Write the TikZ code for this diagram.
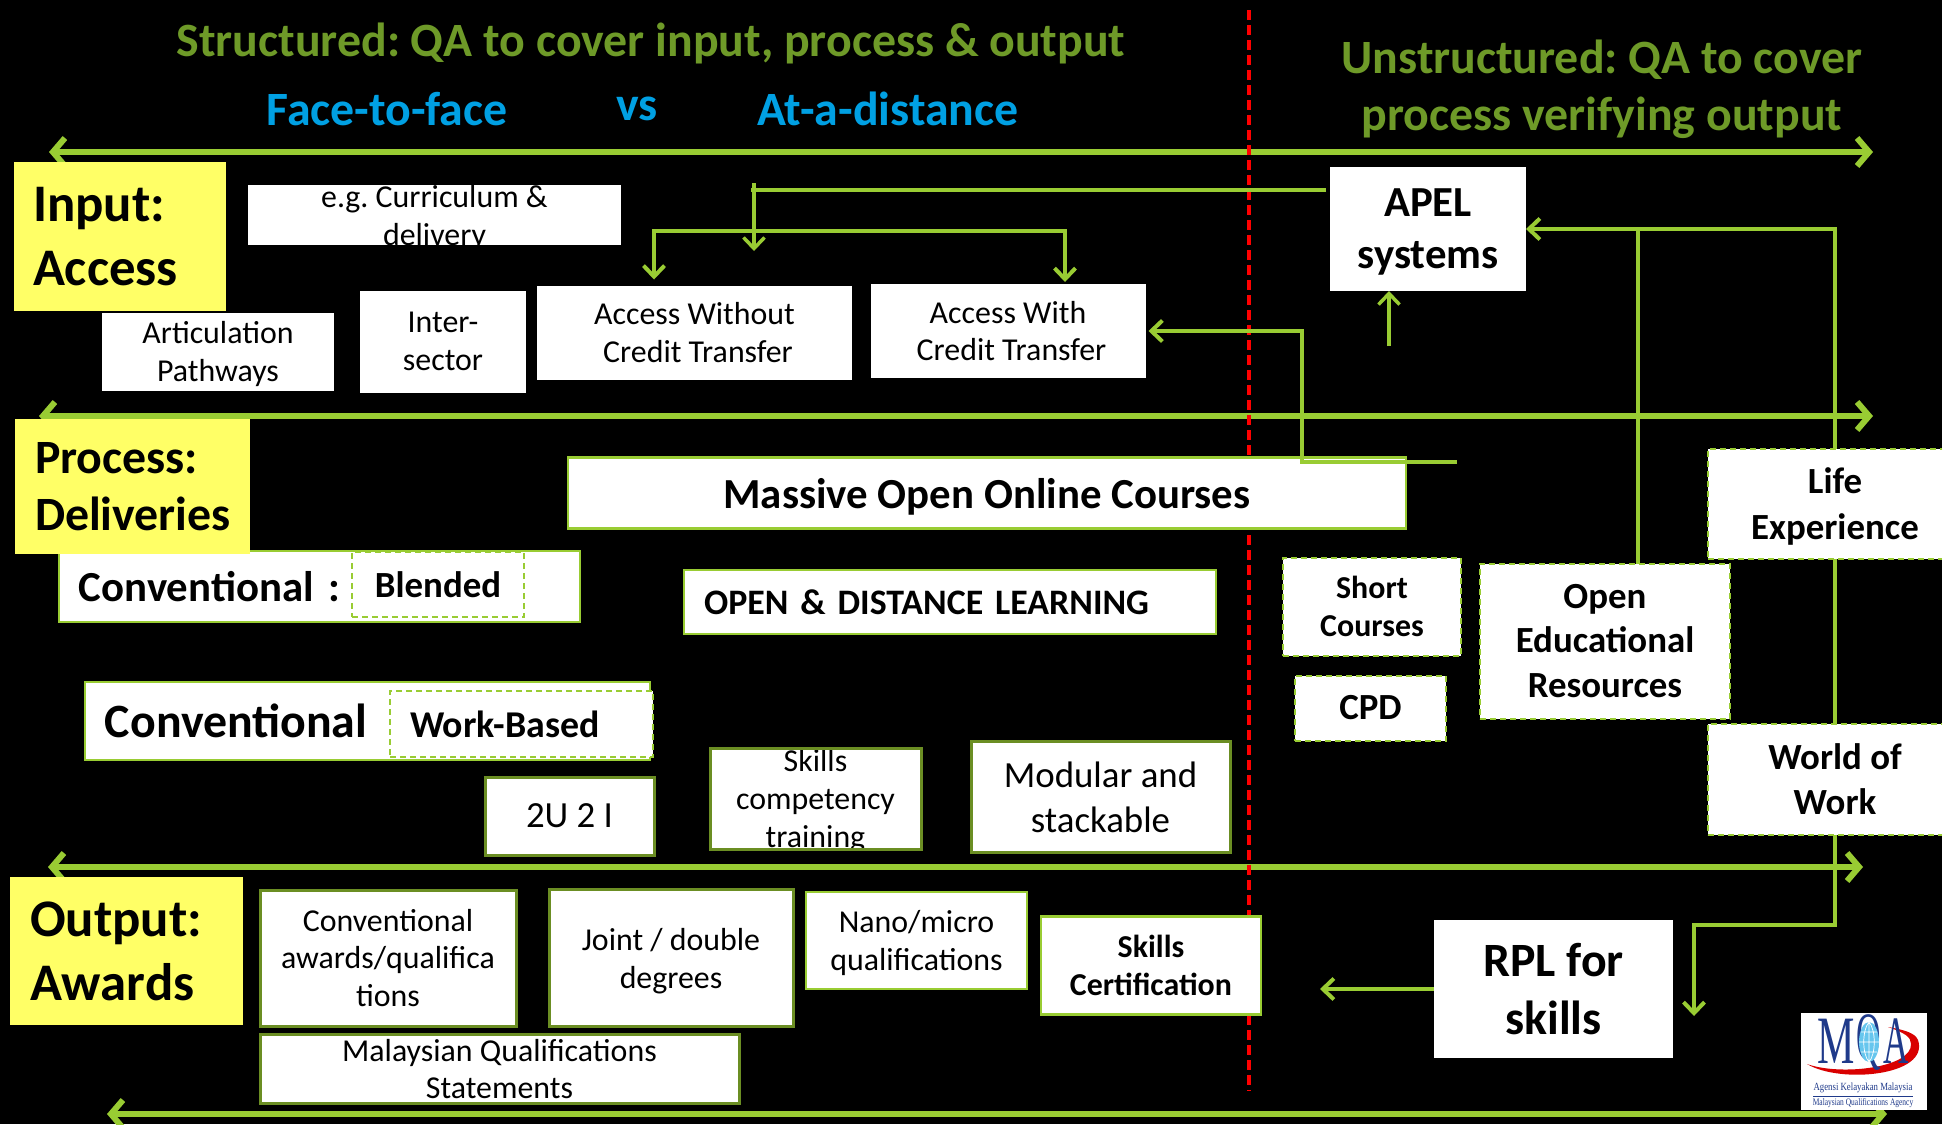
\documentclass[tikz,border=0pt]{standalone}
\usepackage{fontspec}
\setmainfont{Carlito}
\newfontfamily\logofont{Liberation Serif}
\usetikzlibrary{arrows.meta}
\newcommand{\fsz}[2]{\fontsize{#1}{#2}\selectfont}
\definecolor{mqgreen}{HTML}{99CC33}
\definecolor{mqdark}{HTML}{6B8E23}
\definecolor{mqtitle}{HTML}{6E9A28}
\definecolor{mqblue}{HTML}{00A0E3}
\definecolor{mqyellow}{HTML}{FFFF66}
\definecolor{mqnavy}{HTML}{1F3A8A}
\tikzset{
    wh/.style 2 args={minimum width=#1 bp, minimum height=#2 bp, inner sep=0pt, outer sep=0pt, align=center},
    whitebox/.style={fill=white, text=black},
    greenbox/.style={whitebox, draw=mqgreen, line width=2.5bp},
    darkbox/.style={whitebox, draw=mqdark, line width=3bp},
    dashbox/.style={whitebox, draw=mqgreen, line width=2bp, dash pattern=on 6bp off 4bp},
    yellowbox/.style={fill=mqyellow, text=black, font=\bfseries\fsz{53}{64}, align=left, anchor=north west, inner sep=0pt, outer sep=0pt},
    leftbox/.style={align=left, text width=#1 bp, inner xsep=20bp},
    mainarrow/.style={draw=mqgreen, line width=6bp, line cap=round, {Straight Barb[length=12bp,width=28bp]}-{Straight Barb[length=12bp,width=28bp]}},
    link/.style={draw=mqgreen, line width=4bp, line join=miter},
    thin tip/.style={-{Straight Barb[length=11bp,width=21bp]}},
    title/.style={text=mqtitle, font=\bfseries\fsz{48}{57}, align=center},
    subtitle/.style={text=mqblue, font=\bfseries\fsz{48}{57}},
    cliptext/.style={path picture={\node[align=center, font=\fsz{32}{38}, text=black] at ([yshift=-3bp]path picture bounding box.center) {#1};}},
    plain/.style={font=\fsz{32}{38}},
}
\begin{document}
\frenchspacing
\begin{tikzpicture}[x=1bp, y=-1bp]
    \useasboundingbox (0,0) rectangle (1942,1124);
    %% Background
    \fill[black] (0,0) rectangle (1942,1124);

    %% Level arrows
    \coordinate (accessl) at (49,152);
    \coordinate (accessr) at (1873,152);
    \coordinate (processl) at (39,416);
    \coordinate (processr) at (1873,416);
    \coordinate (outputl) at (48,867);
    \coordinate (outputr) at (1863,867);
    \coordinate (awardsl) at (107,1114);
    \coordinate (awardsr) at (1887,1114);
    \draw[mainarrow] (accessl) -- (accessr);
    \draw[mainarrow] (processl) -- (processr);
    \draw[mainarrow] (outputl) -- (outputr);
    \draw[mainarrow] (awardsl) -- (awardsr);

    %% Divider
    \coordinate (divtop) at (1249,10);
    \coordinate (divbot) at (1249,1091);
    \draw[red, line width=4bp, dash pattern=on 10bp off 5bp] (divtop) -- (divbot);

    %% Titles
    \node[title] (structured) at (651,43) {Structured: QA to cover input, process \& output};
    \node[title] (unstructured) at (1602,89) {Unstructured: QA to cover\\process verifying output};
    \node[subtitle] (face) at (387,109) {Face-to-face};
    \node[subtitle] (versus) at (637,109) {vs};
    \node[subtitle] (distance) at (888,109) {At-a-distance};

    %% Input
    \node[whitebox, wh={373}{60}, cliptext={e.g. Curriculum \&\\delivery}] (curriculum) at (434.5,215) {};
    \node[whitebox, wh={166}{102}, plain, text depth=-5bp] (inter) at (443,341.5) {Inter-\\sector};
    \node[whitebox, wh={315}{94}, plain] (awo) at (694.5,332.5) {Access Without\\\hspace*{7bp}Credit Transfer};
    \node[whitebox, wh={275}{94}, plain] (awi) at (1008,331) {Access With\\\hspace*{7bp}Credit Transfer};
    \node[whitebox, wh={196}{124}, font=\bfseries\fsz{43}{52}, text depth=0bp] (apel) at (1428,229) {APEL\\systems};
    \node[yellowbox, minimum width=212bp, minimum height=149bp, text width=174bp, inner xsep=19bp] (input) at (14,162) {Input:\\Access};
    \node[whitebox, draw=black, line width=1bp, wh={232}{79}, plain, text depth=0bp] (articulation) at (218,351.5) {Articulation\\Pathways};

    %% Process
    \node[greenbox, wh={838}{71}, font=\bfseries\fsz{43}{50}, text depth=-7bp] (mooc) at (987,493) {Massive Open Online Courses};
    \node[greenbox, wh={532}{64}, leftbox=492, font=\bfseries\fsz{36}{44}] (odl) at (950,602) {OPEN \& DISTANCE LEARNING};
    \node[greenbox, wh={521}{71}, leftbox=481, font=\bfseries\fsz{43}{50}] (convone) at (319.5,586.5) {Conventional :};
    \node[dashbox, wh={172}{65}, font=\bfseries\fsz{37}{42}] (blended) at (438,584.5) {Blended};
    \node[greenbox, wh={565}{78}, leftbox=525, font=\bfseries\fsz{48}{55}] (convtwo) at (367.5,721) {Conventional};
    \node[dashbox, wh={263}{66}, leftbox=223, font=\bfseries\fsz{38}{44}] (workbased) at (521.5,724) {Work-Based};
    \node[yellowbox, minimum width=235bp, minimum height=135bp, text width=195bp, inner xsep=20bp, font=\bfseries\fsz{48}{57}] (process) at (15,419) {Process:\\Deliveries};
    \node[darkbox, wh={169}{78}, font=\fsz{37}{42}, text depth=-4bp] (twoutwoi) at (569.5,816) {2U 2 I};
    \node[darkbox, wh={211}{101}, cliptext={Skills\\competency\\training}] (skills) at (815.5,798.5) {};
    \node[darkbox, wh={259}{111}, font=\fsz{37}{45}, text depth=-5bp] (modular) at (1100.5,797) {Modular and\\stackable};
    \node[dashbox, wh={178}{98}, font=\bfseries\fsz{32}{38}] (short) at (1372,606.5) {Short\\Courses};
    \node[dashbox, wh={151}{65}, font=\bfseries\fsz{37}{42}] (cpd) at (1370.5,708) {CPD};
    \node[dashbox, wh={250}{155}, font=\bfseries\fsz{37}{45}] (oer) at (1605,641) {Open\\Educational\\Resources};
    \node[dashbox, wh={254}{110}, font=\bfseries\fsz{37}{46}, text depth=0bp] (life) at (1835,503.5) {Life\\Experience};
    \node[dashbox, wh={254}{111}, font=\bfseries\fsz{37}{45}] (world) at (1835,779) {World of\\Work};

    %% Output
    \node[yellowbox, minimum width=233bp, minimum height=148bp, text width=193bp, inner xsep=20bp] (output) at (10,877) {Output:\\Awards};
    \node[darkbox, wh={256}{136}, plain] (awards) at (388,958) {Conventional\\awards/qualifica\\tions};
    \node[darkbox, wh={244}{137}, plain, text depth=0bp] (joint) at (671,958) {Joint / double\\degrees};
    \node[greenbox, wh={221}{97}, plain, text depth=0bp] (nano) at (916.5,940.5) {Nano/micro\\qualifications};
    \node[greenbox, wh={220}{98}, font=\bfseries\fsz{32}{38}] (certification) at (1151,965.5) {Skills\\Certification};
    \node[darkbox, wh={479}{69}, plain] (statements) at (499.5,1069) {Malaysian Qualifications\\Statements};
    \node[whitebox, wh={239}{138}, font=\bfseries\fsz{48}{58}] (rpl) at (1553.5,989) {RPL for\\skills};

    %% Connectors
    \coordinate (apelturn) at (754,190);
    \coordinate (apelstub) at (754,183);
    \coordinate (apelhit) at (754,251);
    \coordinate (apelend) at (751,190);
    \draw[link] ([xshift=-4bp]apel.west |- apelturn) -- (apelend);
    \draw[link, line width=3.5bp, thin tip] (apelstub) -- (apelhit);

    \coordinate (treetop) at (860,231);
    \draw[link, {Straight Barb[length=11bp,width=21bp]}-{Straight Barb[length=11bp,width=21bp]}] ([xshift=-40.5bp,yshift=6bp]awo.north) |- (treetop) -| ([xshift=57bp,yshift=2bp]awi.north);

    \coordinate (apelfoot) at (1389,346);
    \draw[link, line width=3.5bp, thin tip] (apelfoot) -- (apelfoot |- apel.south);

    \coordinate (moocend) at (1457,462);
    \coordinate (moocturn) at (1302,462);
    \draw[link, thin tip] (moocend) -- (moocturn) |- ([xshift=3bp]awi.east);

    \coordinate (oerturn) at (1638,229);
    \draw[link, thin tip] (oerturn |- oer.north) -- (oerturn) -- (apel.east);
    \coordinate (lifetop) at (1835,229);
    \draw[link] (oerturn) -- (lifetop) -- (life.north);
    \draw[link] (life.south) -- (world.north);
    \coordinate (worldturn) at (1835,925);
    \coordinate (rplside) at (1694,1016);
    \draw[link, thin tip] (world.south) -- (worldturn) -| (rplside);

    \coordinate (certside) at (1320,989);
    \draw[link, thin tip] (rpl.west) -- (certside);

    %% Logo
    \fill[white] (1801,1013) rectangle (1927,1110);
    \fill[red!85!black] (1807,1064) .. controls (1840,1084) and (1930,1076) .. (1918,1040)
        .. controls (1915,1033) and (1905,1030) .. (1888,1027)
        .. controls (1905,1033) and (1911,1037) .. (1911,1044)
        .. controls (1912,1068) and (1840,1076) .. (1807,1064);
    \node[text=mqnavy, font=\logofont\fsz{68}{68}, xscale=0.62, inner sep=0pt] (logom) at (1836,1041) {M};
    \node[text=mqnavy, font=\logofont\fsz{68}{68}, xscale=0.5, inner sep=0pt] (logoq) at (1869,1043) {Q};
    \node[text=mqnavy, font=\logofont\fsz{68}{68}, xscale=0.52, inner sep=0pt] (logoa) at (1896,1041) {A};
    \fill[mqblue!60!white] (1869,1042) ellipse (10 and 20);
    \draw[white, line width=0.7bp] (1869,1022) -- (1869,1062) (1859,1042) -- (1879,1042)
        (1861,1032) -- (1877,1032) (1861,1052) -- (1877,1052)
        (1869,1022) .. controls (1862,1030) and (1862,1054) .. (1869,1062)
        (1869,1022) .. controls (1876,1030) and (1876,1054) .. (1869,1062);
    \node[text=mqnavy, font=\logofont\fsz{11}{12}, xscale=0.8, inner sep=0pt] (logoagensi) at (1863,1088) {Agensi Kelayakan Malaysia};
    \draw[mqnavy, line width=1bp] (1813,1096) -- (1913,1096);
    \node[text=mqnavy, font=\logofont\fsz{10}{12}, xscale=0.75, inner sep=0pt] (logoagency) at (1863,1103) {Malaysian Qualifications Agency};
\end{tikzpicture}
\end{document}
